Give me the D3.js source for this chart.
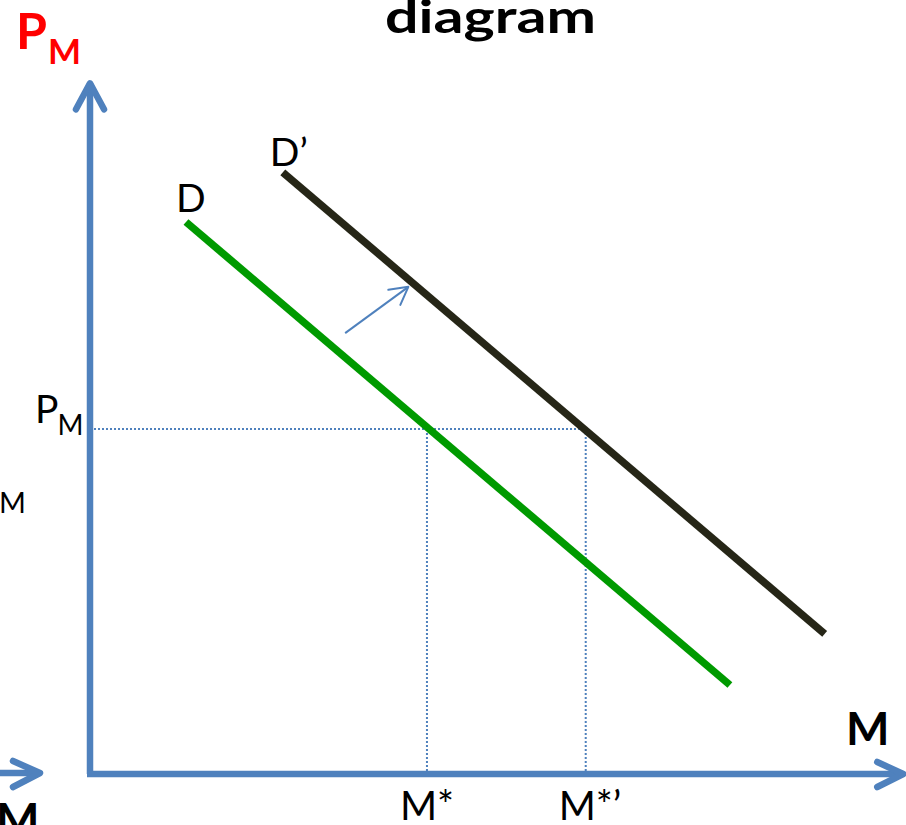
<!DOCTYPE html>
<html><head><meta charset="utf-8">
<script src="https://cdn.jsdelivr.net/npm/d3@7"></script>
<style>
html,body{margin:0;padding:0;background:#fff;overflow:hidden}
svg{display:block}
text{font-family:Lato,"Open Sans","Liberation Sans",sans-serif}
</style></head>
<body>
<svg id="c" width="906" height="825"></svg>
<script>
// ---- data (model units: quantity M on x, price PM on y) ----
const demandD      = [[11.85, 80.0], [79.0, 12.9]];   // D
const demandDprime = [[23.8, 87.2], [90.7, 20.3]];    // D'
const shiftArrow   = [[31.5, 63.9], [39.3, 70.6]];
const priceLevel   = 50;          // PM
const quantities   = [41.6, 61.2]; // M*, M*'
const quantityLabels = ["M*", "M*\u2019"];
const curveLabels  = ["D", "D\u2019"];

const svg = d3.select("#c");
const x = d3.scaleLinear().domain([0, 100]).range([90, 900]);
const y = d3.scaleLinear().domain([0, 100]).range([774, 84]);
const blue = "#4f81bd";

// title fragment (cut at the top edge as in the source slide)
svg.append("text").attr("x", 385).attr("y", 33)
  .attr("font-size", 46).attr("font-weight", "bold").attr("fill", "#000")
  .attr("textLength", 211).attr("lengthAdjust", "spacingAndGlyphs")
  .text("diagram");

// dotted guides
const g = svg.append("g").attr("stroke", blue).attr("stroke-width", 2)
  .attr("stroke-dasharray", "2,2").attr("fill", "none");
g.append("line").attr("x1", x(0)).attr("x2", x(quantities[1]))
  .attr("y1", y(priceLevel)).attr("y2", y(priceLevel));
quantities.forEach(q => {
  g.append("line").attr("x1", x(q)).attr("x2", x(q))
    .attr("y1", y(priceLevel)).attr("y2", y(0));
});

// axes
const ax = svg.append("g").attr("stroke", blue).attr("stroke-width", 6.5)
  .attr("fill", "none").attr("stroke-linecap", "round").attr("stroke-linejoin", "round");
ax.append("path").attr("d", `M${x(0)},${y(0)} V${y(100.1)}`).attr("stroke-linecap","butt");
ax.append("path").attr("d", `M${x(100.4)},${y(0)} H${x(0)-3}`).attr("stroke-linecap","butt");
ax.append("path").attr("d", `M${x(0)-14},${y(100.1)+26} L${x(0)},${y(100.1)} L${x(0)+14},${y(100.1)+26}`);
ax.append("path").attr("d", `M${x(100.4)-26},${y(0)-12} L${x(100.4)},${y(0)} L${x(100.4)-26},${y(0)+13}`);
// partial arrow at left edge (from neighbouring diagram)
ax.append("path").attr("d", `M-5,${y(0)-1} H39`).attr("stroke-linecap","butt");
ax.append("path").attr("d", `M13,${y(0)-13} L40,${y(0)-1} L13,${y(0)+13}`);

// demand curves
const line = d3.line().x(d => x(d[0])).y(d => y(d[1]));
svg.append("path").datum(demandD).attr("d", line)
  .attr("stroke", "#009a00").attr("stroke-width", 7.5).attr("fill", "none");
svg.append("path").datum(demandDprime).attr("d", line)
  .attr("stroke", "#262617").attr("stroke-width", 7.5).attr("fill", "none");

// shift arrow
const a1 = shiftArrow[1];
svg.append("path").datum(shiftArrow).attr("d", line)
  .attr("stroke", blue).attr("stroke-width", 2).attr("fill", "none");
const tx = x(a1[0]), ty = y(a1[1]);
svg.append("path").attr("d", `M${tx-20},${ty+3} L${tx},${ty} L${tx-8},${ty+18}`)
  .attr("stroke", blue).attr("stroke-width", 2).attr("fill", "none")
  .attr("stroke-linecap", "round").attr("stroke-linejoin", "round");

// curve labels
svg.append("text").attr("x", x(demandD[0][0]) - 10).attr("y", y(demandD[0][1]) - 10)
  .attr("font-size", 39).attr("fill", "#000").text(curveLabels[0]);
svg.append("text").attr("x", x(demandDprime[0][0]) - 13).attr("y", y(demandDprime[0][1]) - 6)
  .attr("font-size", 39).attr("fill", "#000").text(curveLabels[1]);

// quantity labels
quantityLabels.forEach((t, i) => {
  svg.append("text").attr("x", x(quantities[i]) - 27).attr("y", y(0) + 46)
    .attr("font-size", 40).attr("fill", "#000").text(t);
});

// price label
const pl = svg.append("text").attr("x", 35).attr("y", y(priceLevel) - 6)
  .attr("font-size", 39).attr("fill", "#000");
pl.append("tspan").text("P");
pl.append("tspan").attr("font-size", 28).attr("dy", 12).attr("dx", -1).text("M");

// axis titles
const yt = svg.append("text").attr("x", 16).attr("y", 49)
  .attr("font-size", 50).attr("font-weight", "bold").attr("fill", "#ff0000");
yt.append("tspan").text("P");
yt.append("tspan").attr("font-size", 35).attr("dy", 15).attr("dx", 1).text("M");

svg.append("text").attr("x", 846).attr("y", 745)
  .attr("font-size", 46).attr("font-weight", "bold").attr("fill", "#000").text("M");

// cut-off fragments at the left edge
svg.append("text").attr("x", -1).attr("y", 513)
  .attr("font-size", 29).attr("fill", "#000").text("M");
svg.append("text").attr("x", -4).attr("y", 836)
  .attr("font-size", 46).attr("font-weight", "bold").attr("fill", "#000").text("M");
</script>
</body></html>
